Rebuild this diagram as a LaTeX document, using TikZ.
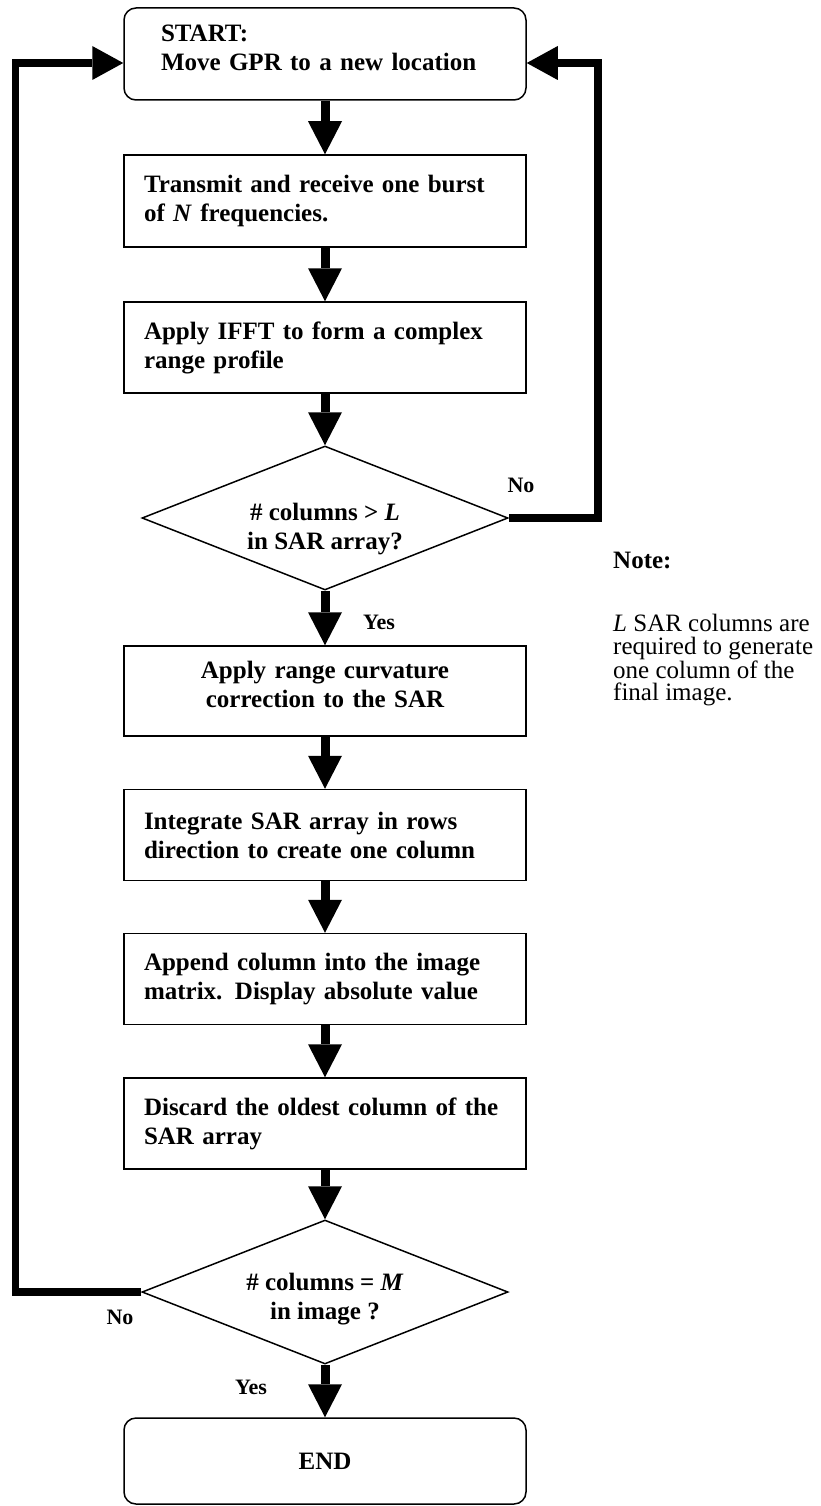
\documentclass[tikz,border=0pt]{standalone}
\usepackage{fontspec}
\setmainfont{Liberation Serif}
\usetikzlibrary{arrows.meta,shapes.geometric}

% struts that lift or lower a node's text inside its frame
\newcommand{\topstrut}[1]{\rule{0pt}{#1}}
\newcommand{\botstrut}[1]{\rule[-#1]{0pt}{0pt}}

\begin{document}
\begin{tikzpicture}[x=1pt,y=-1pt,
  every node/.style={font=\fontsize{25pt}{29pt}\selectfont\bfseries},
  stepbox/.style={draw, line width=1.5pt, minimum width=402pt, minimum height=91pt,
    inner xsep=20pt, inner ysep=0pt, text width=362pt, align=left},
  midbox/.style={stepbox, align=center},
  termbox/.style={draw, line width=1.5pt, rounded corners=12pt, minimum width=402pt,
    inner ysep=0pt},
  decision/.style={draw, diamond, line width=1.5pt, minimum width=366pt,
    minimum height=144pt, shape aspect=2.5, inner sep=0pt, align=center},
  flow/.style={line width=9pt, -{Triangle[width=34pt,length=33pt,line width=0pt]}},
  loopline/.style={line width=7.5pt, -{Triangle[width=34pt,length=31pt,line width=0pt]}},
  answer/.style={font=\fontsize{22pt}{26pt}\selectfont\bfseries},
  notetext/.style={font=\fontsize{25pt}{22.5pt}\selectfont, align=left, inner sep=0pt}
]
\useasboundingbox (0,0) rectangle (820,1506);

% main column of steps
\node[termbox, minimum height=92pt, inner xsep=37pt, text width=328pt, align=left]
  (start) at (325,54) {START:\\Move GPR to a new location\botstrut{13pt}};
\node[stepbox, minimum height=92pt] (tx) at (325,201)
  {Transmit and receive one burst\\of \textit{N} frequencies.};
\node[stepbox] (ifft) at (325,347.5)
  {Apply IFFT to form a complex\\range profile};
\node[decision] (cmpL) at (325,518)
  {\topstrut{40pt}\# columns > \textit{L}\\in SAR array?};
\node[midbox, minimum height=90pt] (rcc) at (325,691)
  {Apply range curvature\\correction to the SAR\botstrut{14pt}};
\node[stepbox] (integ) at (325,835)
  {Integrate SAR array in rows\\direction to create one column};
\node[stepbox] (append) at (325,979)
  {Append column into the image\\matrix. Display absolute value};
\node[stepbox] (discard) at (325,1123.5)
  {Discard the oldest column of the\\SAR array};
\node[decision] (cmpM) at (325,1292)
  {\topstrut{32pt}\# columns = \textit{M}\\in image ?};
\node[termbox, minimum height=86pt] (stop) at (325,1461) {END};

% forward flow
\draw[flow] (start.south) -- (tx.north);
\draw[flow] (tx.south) -- (ifft.north);
\draw[flow] (ifft.south) -- (cmpL.north);
\draw[flow] (cmpL.south) -- (rcc.north);
\draw[flow] (rcc.south) -- (integ.north);
\draw[flow] (integ.south) -- (append.north);
\draw[flow] (append.south) -- (discard.north);
\draw[flow] (discard.south) -- (cmpM.north);
\draw[flow] (cmpM.south) -- (stop.north);

% feedback loops
\draw[loopline, line join=miter] (cmpL.east) -- ++(89,0) |- ([yshift=-9pt]start.east);
\draw[loopline, line join=miter] (cmpM.west) -- ++(-126,0) |- ([yshift=-9pt]start.west);

% branch labels
\node[answer] (noR) at (521,485) {No};
\node[answer] (yesT) at (379,622) {Yes};
\node[answer] (noL) at (120,1317) {No};
\node[answer] (yesB) at (251,1387) {Yes};

% side note
\node[anchor=base west, inner sep=0pt] (notehead) at (613,568) {Note:};
\node[notetext, anchor=north west] (notebody) at (613,614)
  {\textit{L} SAR columns are\\required to generate\\one column of the\\final image.};
\end{tikzpicture}
\end{document}
